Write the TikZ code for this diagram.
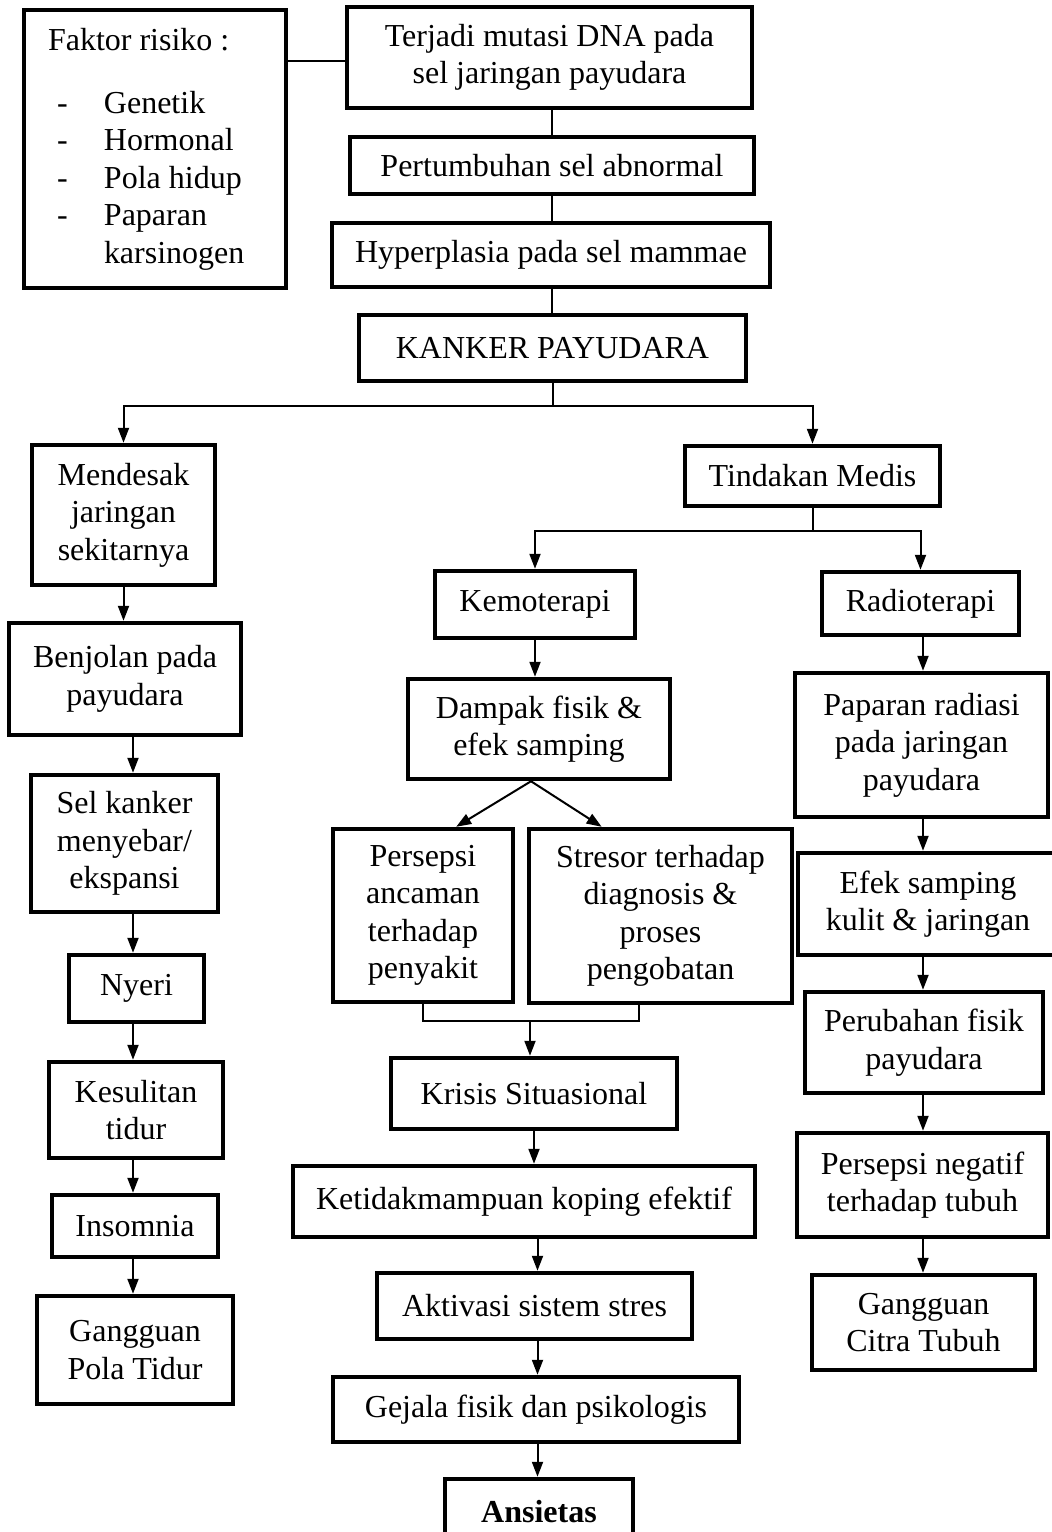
\documentclass[tikz,border=0pt]{standalone}
\usepackage{fontspec}
\setmainfont{Liberation Serif}
\usetikzlibrary{arrows.meta,calc,positioning}
\tikzstyle{block} = [rectangle, draw, line width=1.35pt, align=center, inner sep=0pt, font=\fontsize{9.6pt}{11.25pt}\selectfont]
\tikzstyle{conn} = [line width=0.6pt]
\tikzset{boxsize/.style 2 args={minimum width=#1*0.3pt, minimum height=#2*0.3pt}}
\newcommand{\fitem}[1]{\makebox[16.8pt][l]{\hspace*{2.7pt}-}#1}

\begin{document}
\begin{tikzpicture}[x=0.3pt,y=-0.3pt,>={Triangle[length=4.5pt,width=3.3pt]}]
    \useasboundingbox (0,0) rectangle (1052,1532);

    % top chain
    \node [block, align=flush left, text width=64.2pt, boxsize={262}{278}] (faktor) at (155,149)
        {Faktor risiko :\\[7.65pt]\fitem{Genetik}\\\fitem{Hormonal}\\\fitem{Pola hidup}\\\fitem{Paparan}\\\hspace*{16.8pt}karsinogen};
    \node [block, boxsize={405}{101}] (terjadi) at (549.5,57.5) {Terjadi mutasi DNA pada\\sel jaringan payudara};
    \node [block, boxsize={404}{57}] (pertumb) at (552,165.5) {Pertumbuhan sel abnormal};
    \node [block, boxsize={438}{64}] (hyper) at (551,255) {Hyperplasia pada sel mammae};
    \node [block, boxsize={387}{66}] (kanker) at (552.5,348) {KANKER PAYUDARA};

    % left branch
    \node [block, boxsize={183}{140}] (mendesak) at (123.5,515) {Mendesak\\jaringan\\sekitarnya};
    \node [block, boxsize={232}{112}] (benjolan) at (125,679) {Benjolan pada\\payudara};
    \node [block, boxsize={187}{137}] (selk) at (124.5,843.5) {Sel kanker\\menyebar/\\ekspansi};
    \node [block, boxsize={135}{67}] (nyeri) at (136.5,988.5) {Nyeri};
    \node [block, boxsize={174}{96}] (kesulitan) at (136,1110) {Kesulitan\\tidur};
    \node [block, boxsize={166}{62}] (insomnia) at (135,1226) {Insomnia};
    \node [block, boxsize={196}{108}] (gpt) at (135,1350) {Gangguan\\Pola Tidur};

    % medical treatment
    \node [block, boxsize={255}{60}] (tindakan) at (812.5,476) {Tindakan Medis};
    \node [block, boxsize={200}{67}] (kemo) at (535,604.5) {Kemoterapi};
    \node [block, boxsize={197}{63}] (radio) at (920.5,603.5) {Radioterapi};

    % chemotherapy branch
    \node [block, boxsize={262}{100}] (dampak) at (539,729) {Dampak fisik \&\\efek samping};
    \node [block, boxsize={180}{173}] (persepsi) at (423,915.5) {Persepsi\\ancaman\\terhadap\\penyakit};
    \node [block, boxsize={263}{174}] (stresor) at (660.5,916) {Stresor terhadap\\diagnosis \&\\proses\\pengobatan};
    \node [block, boxsize={286}{71}] (krisis) at (534,1093.5) {Krisis Situasional};
    \node [block, boxsize={462}{71}] (ketidak) at (524,1201.5) {Ketidakmampuan koping efektif};
    \node [block, boxsize={315}{66}] (aktivasi) at (534.5,1306) {Aktivasi sistem stres};
    \node [block, boxsize={406}{65}] (gejala) at (536,1409.5) {Gejala fisik dan psikologis};
    \node [block, boxsize={188}{66}] (ansietas) at (539,1512) {\textbf{Ansietas}};

    % radiotherapy branch
    \node [block, boxsize={253}{144}] (paparan) at (921.5,745) {Paparan radiasi\\pada jaringan\\payudara};
    \node [block, boxsize={260}{102}] (efek) at (928,904) {Efek samping\\kulit \& jaringan};
    \node [block, boxsize={238}{101}] (perubahan) at (924,1042.5) {Perubahan fisik\\payudara};
    \node [block, boxsize={251}{104}] (persneg) at (922.5,1185) {Persepsi negatif\\terhadap tubuh};
    \node [block, boxsize={223}{95}] (gct) at (923.5,1322.5) {Gangguan\\Citra Tubuh};

    \coordinate (lc) at (133,0);
    \coordinate (mc) at (537.5,0);
    \coordinate (rc) at (923,0);
    \coordinate (fork1) at (552.5,406);
    \coordinate (fork2) at (812.5,531);
    \coordinate (join) at (530,1021);

    \draw[conn] (faktor.east |- 0,61) -- (terjadi.west |- 0,61);
    \draw[conn] (terjadi.south -| pertumb) -- (pertumb.north);
    \draw[conn] (pertumb.south) -- (pertumb.south |- hyper.north);
    \draw[conn] (hyper.south -| pertumb) -- (pertumb |- kanker.north);

    \draw[conn] (kanker.south) -- (fork1);
    \draw[conn,->] (fork1) -| (mendesak.north);
    \draw[conn,->] (fork1) -| (tindakan.north);

    \draw[conn,->] (mendesak.south) -- (mendesak.south |- benjolan.north);
    \draw[conn,->] (benjolan.south -| lc) -- (selk.north -| lc);
    \draw[conn,->] (selk.south -| lc) -- (nyeri.north -| lc);
    \draw[conn,->] (nyeri.south -| lc) -- (kesulitan.north -| lc);
    \draw[conn,->] (kesulitan.south -| lc) -- (insomnia.north -| lc);
    \draw[conn,->] (insomnia.south -| lc) -- (gpt.north -| lc);

    \draw[conn] (tindakan.south) -- (fork2);
    \draw[conn,->] (fork2) -| (kemo.north);
    \draw[conn,->] (fork2) -| (radio.north);

    \draw[conn,->] (kemo.south) -- (kemo.south |- dampak.north);
    \coordinate (split) at ($(dampak.south west)!0.47!(dampak.south east)$);
    \draw[conn,->] (split) -- ($(persepsi.north west)!0.68!(persepsi.north east)$);
    \draw[conn,->] (split) -- ($(stresor.north west)!0.28!(stresor.north east)$);
    \draw[conn] (persepsi.south) |- (join) -| ($(stresor.south west)!0.42!(stresor.south east)$);
    \draw[conn,->] (join) -- (join |- krisis.north);
    \draw[conn,->] (krisis.south) -- (krisis.south |- ketidak.north);
    \draw[conn,->] (ketidak.south -| mc) -- (aktivasi.north -| mc);
    \draw[conn,->] (aktivasi.south -| mc) -- (gejala.north -| mc);
    \draw[conn,->] (gejala.south -| mc) -- (ansietas.north -| mc);

    \draw[conn,->] (radio.south -| rc) -- (paparan.north -| rc);
    \draw[conn,->] (paparan.south -| rc) -- (efek.north -| rc);
    \draw[conn,->] (efek.south -| rc) -- (perubahan.north -| rc);
    \draw[conn,->] (perubahan.south -| rc) -- (persneg.north -| rc);
    \draw[conn,->] (persneg.south -| rc) -- (gct.north -| rc);
\end{tikzpicture}
\end{document}
